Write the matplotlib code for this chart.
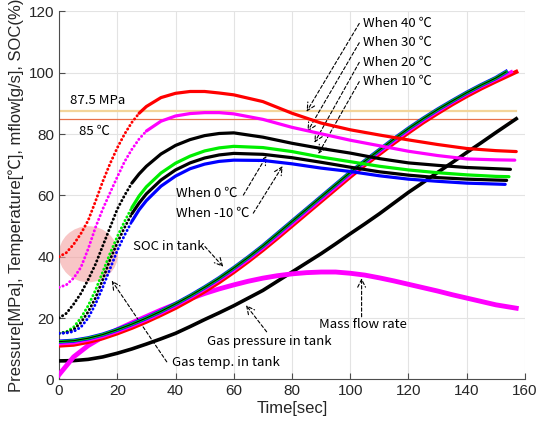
import matplotlib
matplotlib.use("Agg")
import matplotlib.pyplot as plt
from matplotlib.patches import Ellipse

# ---------------- data ----------------
# gas temperature in tank, per initial temperature
t_temp = [0, 2.5, 5, 7.5, 10, 12.5, 15, 17.5, 20, 22.5, 25, 27.5, 30, 35, 40, 45, 50, 55,
          60, 70, 80, 90, 100, 110, 120, 130, 140, 150]
temp_40 = [40, 41.3, 44, 47.5, 51.8, 58, 64.5, 70.3, 75.5, 80, 83.8, 86.8, 89, 91.9, 93.3,
           93.9, 93.9, 93.4, 92.8, 90.6, 86.8, 83.6, 81.4, 79.7, 78.1, 76.6, 75.3, 74.6]
temp_30 = [30, 30.8, 33, 36.5, 42.5, 49.5, 55.5, 60.8, 66, 71, 75, 78.4, 81, 84.2, 85.9,
           86.7, 87, 87, 86.6, 84.8, 82.2, 80.1, 78, 76.2, 74.4, 73, 71.9, 71.6]
temp_20 = [20, 21.5, 24.5, 28, 32.5, 37.5, 43.5, 49.5, 55.5, 60, 64, 67, 69.5, 73.5, 76.3,
           78.2, 79.5, 80.2, 80.4, 79, 77, 75.3, 73.8, 72, 70.6, 69.8, 69.1, 68.7]
temp_10 = [15, 15.5, 17, 20, 24, 29, 35, 41, 46.5, 51.5, 56, 59.8, 62.8, 67.3, 70.5,
           72.8, 74.5, 75.5, 76, 75.6, 74.3, 72.5, 71, 69.5, 68.3, 67.4, 66.7, 66.2]
temp_0 = [15, 15.3, 16.2, 18.5, 22, 26.5, 32.5, 39, 44.5, 49.5, 54, 57.5, 60.5, 65, 68.3,
          70.6, 72.2, 73.2, 73.7, 73.4, 72.3, 70.8, 69.2, 67.7, 66.6, 65.8, 65.3, 65]
temp_m10 = [15, 15.1, 15.6, 17, 20, 24.5, 30, 36, 42, 47, 51.5, 55.3, 58.3, 63, 66.3,
            68.7, 70.2, 71.1, 71.5, 71.4, 70.3, 68.9, 67.8, 66.4, 65.3, 64.6, 64, 63.7]
temp_end_t = [157, 156.5, 155, 154.5, 153.7, 153.2]
temp_end_v = [74.3, 71.5, 68.5, 66.1, 64.9, 63.6]
# index in t_temp up to which the fast-rising part looks dotted
temp_dotted_until = [11, 12, 10, 10, 10, 10]

# 5-second grid for SOC, mass flow and pressure
t_main = [0, 5, 10, 15, 20, 25, 30, 35, 40, 45, 50, 55, 60, 65, 70, 75, 80, 85, 90, 95,
          100, 105, 110, 115, 120, 125, 130, 135, 140, 145, 150]
soc_cold = [12.3, 12.6, 13.4, 14.6, 16.2, 18, 20, 22.2, 24.6, 27.2, 30, 33, 36.3, 39.8, 43.5,
            47.5, 51.5, 55.5, 59.5, 63.5, 67.5, 71.2, 74.8, 78.4, 81.8, 85, 88, 90.8, 93.5,
            96, 98.3]
soc_30 = [11.6, 11.9, 12.8, 14, 15.6, 17.4, 19.4, 21.6, 24, 26.6, 29.4, 32.4, 35.6, 39.1,
          42.8, 46.7, 50.7, 54.7, 58.7, 62.7, 66.7, 70.5, 74.1, 77.7, 81.1, 84.4, 87.4,
          90.3, 93, 95.5, 97.8]
soc_40 = [11, 11.3, 12.2, 13.4, 15, 16.8, 18.8, 21, 23.3, 25.9, 28.7, 31.7, 35, 38.5, 42.2,
          46.1, 50.1, 54.1, 58.1, 62.1, 66.1, 69.9, 73.5, 77.1, 80.5, 83.8, 86.8, 89.7,
          92.4, 94.9, 97.2]
soc_end_t = [153.5, 155.3, 157]
soc_end_v = [100.3, 100.3, 100.3]

mflow = [1.5, 7.3, 11, 13.8, 16.2, 18.4, 20.5, 22.6, 24.5, 26.3, 28, 29.5, 30.8, 32, 33,
         33.8, 34.4, 34.8, 35, 35, 34.6, 34, 33.1, 32.1, 31, 29.9, 28.8, 27.6, 26.5,
         25.4, 24.3]
mflow_end = [157, 23.2]

pressure = [6, 6.1, 6.5, 7.3, 8.5, 9.9, 11.5, 13.2, 15, 17.2, 19.5, 21.7, 24, 26.5, 29,
            32, 35, 38, 41, 44.2, 47.5, 50.7, 54, 57.5, 61, 64.2, 67.5, 70.7, 74, 77.2,
            80.5]
pressure_end = [157, 85]

limit_pressure = 87.5
limit_temp = 85

temp_colors = ["#ff0000", "#ff00ff", "#000000", "#00ee00", "#000000", "#0000ff"]

# ---------------- figure ----------------
fig = plt.figure(figsize=(5.38, 4.25), dpi=100)
ax = fig.add_axes([0.1097, 0.1075, 0.8661, 0.8655])

ann_font = ["Noto Sans CJK KR", "DejaVu Sans"]
tick_font = ["Liberation Sans", "Noto Sans CJK KR", "DejaVu Sans"]

# limit lines
ax.plot([0, 157], [limit_pressure] * 2, color="#f3d49a", lw=1.6, zorder=2)
ax.plot([0, 157], [limit_temp] * 2, color="#e8704a", lw=0.9, zorder=2)

# highlight ellipse
ax.add_patch(Ellipse((10.1, 40.8), 20.3, 18.3, angle=0, facecolor="#f4a0a0",
                     alpha=0.6, edgecolor="none", zorder=1))

# pressure
ax.plot(t_main + [pressure_end[0]], pressure + [pressure_end[1]], color="black", lw=2.6, zorder=3)
# mass flow
ax.plot(t_main + [mflow_end[0]], mflow + [mflow_end[1]], color="#ff00ff", lw=3.5, zorder=3)

# SOC curves
ax.plot(t_main + [soc_end_t[2]], soc_40 + [soc_end_v[2]], color="#ff0000", lw=3, zorder=4)
ax.plot(t_main + [soc_end_t[1]], soc_30 + [soc_end_v[1]], color="#ff00ff", lw=2.5, zorder=4)
ax.plot(t_main + [soc_end_t[0]], soc_cold + [soc_end_v[0]], color="#0000ff", lw=3, zorder=4)
ax.plot(t_main + [soc_end_t[0]], soc_cold + [soc_end_v[0]], color="#00ee00", lw=2, zorder=4)
ax.plot(t_main + [soc_end_t[0]], soc_cold + [soc_end_v[0]], color="#000000", lw=0.8, zorder=4)

# temperature curves: dotted-looking fast rise, then solid
temps = [temp_40, temp_30, temp_20, temp_10, temp_0, temp_m10]
for i, (vals, c) in enumerate(zip(temps, temp_colors)):
    k = temp_dotted_until[i]
    ax.plot(t_temp[:k + 1], vals[:k + 1], color=c, lw=2.1, zorder=5,
            linestyle=(0, (0.1, 1.3)), dash_capstyle="round")
    ax.plot(t_temp[k:] + [temp_end_t[i]], vals[k:] + [temp_end_v[i]], color=c, lw=2.3,
            zorder=5, solid_capstyle="round")

# axes styling
ax.set_xlim(0, 160)
ax.set_ylim(0, 120)
ax.set_xticks(range(0, 161, 20))
ax.set_yticks(range(0, 121, 20))
ax.grid(True, color="#e3e3e3", lw=0.8)
ax.set_axisbelow(True)
for s in ["top", "right"]:
    ax.spines[s].set_visible(False)
for s in ["left", "bottom"]:
    ax.spines[s].set_color("#4d4d4d")
    ax.spines[s].set_linewidth(0.8)
ax.tick_params(direction="in", length=4, colors="#4d4d4d", labelcolor="#262626", labelsize=11)
for lab in ax.get_xticklabels() + ax.get_yticklabels():
    lab.set_family(tick_font)
ax.set_xlabel("Time[sec]", fontsize=12, family=tick_font, color="#262626", labelpad=2)
ax.set_ylabel("Pressure[MPa], Temperature[℃], mflow[g/s], SOC(%)", fontsize=12,
              family=tick_font, color="#262626", labelpad=3)

# annotations
fs = 9.5
arrow = dict(arrowstyle="->", linestyle=(0, (3, 2)), color="black", lw=0.8,
             shrinkA=0, shrinkB=0, mutation_scale=14)

ax.text(3.8, 91.1, "87.5 MPa", fontsize=fs, family=ann_font, va="center")
ax.text(6.9, 81, "85 ℃", fontsize=fs, family=ann_font, va="center")

when_labels = ["When 40 ℃", "When 30 ℃", "When 20 ℃", "When 10 ℃"]
when_y = [116.1, 109.8, 103.4, 97.1]
when_tips = [(85.0, 87.3), (85.3, 80.8), (87.7, 77.2), (89.0, 73.5)]
for lab, yv, tip in zip(when_labels, when_y, when_tips):
    ax.text(104.3, yv, lab, fontsize=fs, family=ann_font, va="center")
    ax.annotate("", xy=tip, xytext=(103.1, yv), arrowprops=arrow)

ax.text(40.2, 60.7, "When 0 ℃", fontsize=fs, family=ann_font, va="center")
ax.annotate("", xy=(71.3, 72.9), xytext=(63.3, 60.1), arrowprops=arrow)
ax.text(40.2, 54.2, "When -10 ℃", fontsize=fs, family=ann_font, va="center")
ax.annotate("", xy=(76.8, 69.6), xytext=(66.7, 54.2), arrowprops=arrow)

ax.text(25.5, 43.3, "SOC in tank", fontsize=fs, family=ann_font, va="center")
ax.annotate("", xy=(56.4, 36.7), xytext=(50.1, 43.3), arrowprops=arrow)

ax.text(38.7, 5.4, "Gas temp. in tank", fontsize=fs, family=ann_font, va="center")
ax.annotate("", xy=(18.1, 32.2), xytext=(37.0, 5.7), arrowprops=arrow)

ax.text(50.9, 12.3, "Gas pressure in tank", fontsize=fs, family=ann_font, va="center")
ax.annotate("", xy=(64.2, 24.2), xytext=(71.3, 15.5), arrowprops=arrow)

ax.text(104.5, 18.0, "Mass flow rate", fontsize=fs, family=ann_font, va="center", ha="center")
ax.annotate("", xy=(103.9, 33.0), xytext=(103.9, 20.4), arrowprops=arrow)

fig.savefig("out.png", dpi=100)
